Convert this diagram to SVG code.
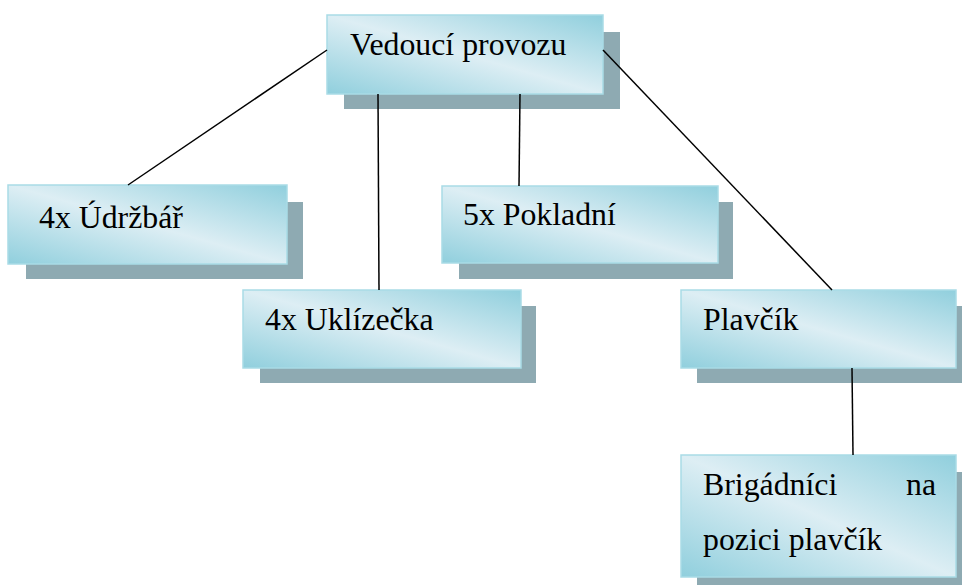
<svg xmlns="http://www.w3.org/2000/svg" width="962" height="586" viewBox="0 0 962 586">
<defs>
<linearGradient id="g" x1="0" y1="1" x2="1" y2="0">
<stop offset="0" stop-color="#90cfdd"/>
<stop offset="0.5" stop-color="#ddeef4"/>
<stop offset="1" stop-color="#90cfdd"/>
</linearGradient>
</defs>
<style>
.sh{fill:#8eaab2}
.bx{fill:url(#g);stroke:#a9dbe6;stroke-width:1.5}
.t{font-family:"Liberation Serif","DejaVu Serif",serif;font-size:31.8px;fill:#000}
.c line{stroke:#000;stroke-width:1.5}
</style>
<g id="n-vedouci">
<rect class="sh" x="344" y="32" width="276" height="77"/>
<rect class="bx" x="327" y="15" width="276" height="79"/>
<text class="t" x="350" y="55">Vedoucí provozu</text>
</g>
<g id="n-udrzbar">
<rect class="sh" x="26" y="202" width="277" height="77"/>
<rect class="bx" x="8" y="185" width="279" height="79"/>
<text class="t" x="39" y="228">4x Údržbář</text>
</g>
<g id="n-pokladni">
<rect class="sh" x="459" y="202" width="274" height="77"/>
<rect class="bx" x="442" y="186" width="276" height="77"/>
<text class="t" x="463" y="225">5x Pokladní</text>
</g>
<g id="n-uklizecka">
<rect class="sh" x="260" y="306" width="276" height="77"/>
<rect class="bx" x="243" y="290" width="278" height="78"/>
<text class="t" x="265" y="330">4x Uklízečka</text>
</g>
<g id="n-plavcik">
<rect class="sh" x="697" y="306" width="265" height="77"/>
<rect class="bx" x="681" y="290" width="275" height="78"/>
<text class="t" x="703" y="330">Plavčík</text>
</g>
<g id="n-brigadnici">
<rect class="sh" x="697" y="472" width="265" height="113"/>
<rect class="bx" x="681" y="455" width="275" height="122"/>
<text class="t" x="703" y="495">Brigádníci</text>
<text class="t" x="906" y="495">na</text>
<text class="t" x="703" y="550">pozici plavčík</text>
</g>
<g id="connectors" class="c">
<line x1="327" y1="50" x2="128" y2="185"/>
<line x1="378" y1="94" x2="379" y2="290"/>
<line x1="520" y1="94" x2="519" y2="186"/>
<line x1="603" y1="50" x2="832" y2="290"/>
<line x1="852" y1="368" x2="853" y2="455"/>
</g>
</svg>
